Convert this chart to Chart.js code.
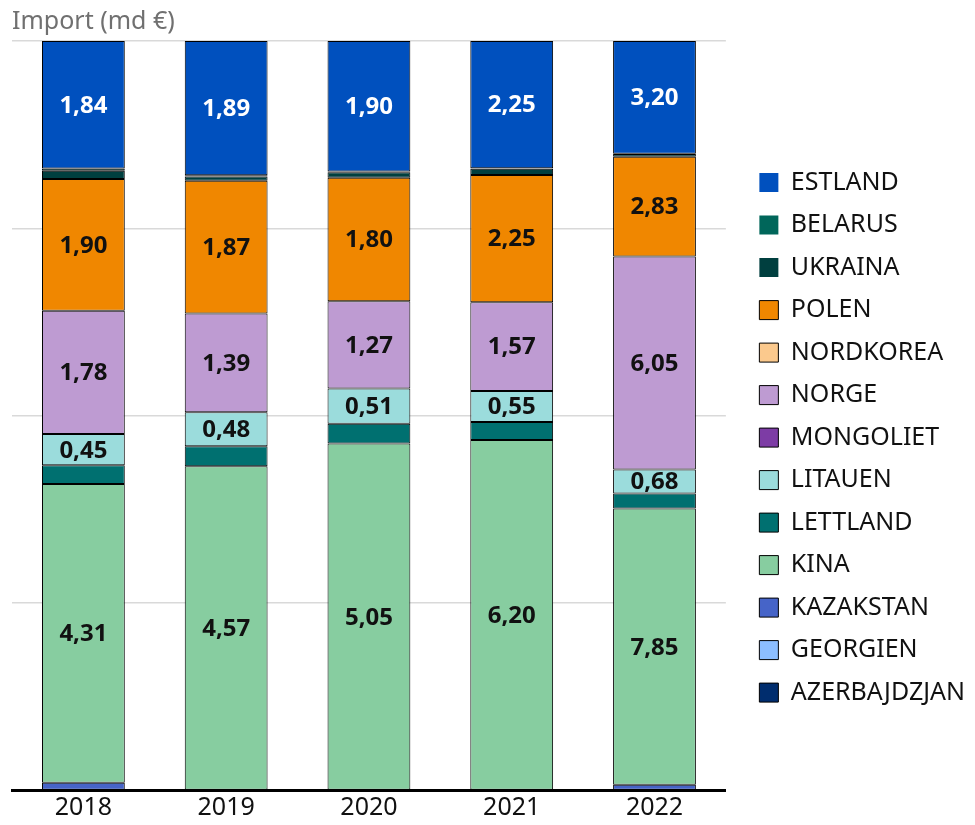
<!DOCTYPE html>
<html>
<head>
<meta charset="utf-8">
<script src="https://cdn.jsdelivr.net/npm/chart.js@4/dist/chart.umd.min.js"></script>
<style>
    html, body { margin: 0; padding: 0; background: #fff; }
    #wrap { width: 975px; height: 825px; }
</style>
</head>
<body>
<div id="wrap"><canvas id="importChart"></canvas></div>
<script>
// import, miljarder euro
const years = ['2018', '2019', '2020', '2021', '2022'];

const azerbajdzjan = [0, 0, 0, 0, 0];
const georgien = [0, 0, 0, 0, 0];
const kazakstan = [0.11, 0, 0, 0, 0.16];
const kina = [4.31, 4.57, 5.05, 6.20, 7.85];
const lettland = [0.27, 0.28, 0.29, 0.32, 0.43];
const litauen = [0.45, 0.48, 0.51, 0.55, 0.68];
const mongoliet = [0, 0, 0, 0, 0];
const norge = [1.78, 1.39, 1.27, 1.57, 6.05];
const nordkorea = [0, 0, 0, 0, 0];
const polen = [1.90, 1.87, 1.80, 2.25, 2.83];
const ukraina = [0.12, 0.06, 0.08, 0.11, 0.08];
const belarus = [0.03, 0.02, 0.01, 0.01, 0.01];
const estland = [1.84, 1.89, 1.90, 2.25, 3.20];

// bottom of the stack first
const series = [
    {label: 'AZERBAJDZJAN', values: azerbajdzjan, color: '#002D6E'},
    {label: 'GEORGIEN', values: georgien, color: '#8CBEFF'},
    {label: 'KAZAKSTAN', values: kazakstan, color: '#4664C8'},
    {label: 'KINA', values: kina, color: '#87CDA0', showValue: true},
    {label: 'LETTLAND', values: lettland, color: '#007070'},
    {label: 'LITAUEN', values: litauen, color: '#9BDCDC', showValue: true},
    {label: 'MONGOLIET', values: mongoliet, color: '#7D3CA5'},
    {label: 'NORGE', values: norge, color: '#BE9BD2', showValue: true},
    {label: 'NORDKOREA', values: nordkorea, color: '#FBC98D'},
    {label: 'POLEN', values: polen, color: '#F08700', showValue: true},
    {label: 'UKRAINA', values: ukraina, color: '#003F3F', noLegendBorder: true},
    {label: 'BELARUS', values: belarus, color: '#00665A', noLegendBorder: true},
    {label: 'ESTLAND', values: estland, color: '#0050BE', showValue: true, textColor: '#fff', noLegendBorder: true},
];

const FONT = '"Noto Sans", "Open Sans", sans-serif';

const totals = years.map(function (y, i) {
    let sum = 0;
    series.forEach(function (s) {
        sum += s.values[i];
    });
    return sum;
});

const datasets = series.map(function (s) {
    return {
        label: s.label,
        data: s.values.map(function (v, i) {
            return v > 0 ? v / totals[i] * 100 : null;
        }),
        values: s.values,
        showValue: !!s.showValue,
        noLegendBorder: !!s.noLegendBorder,
        textColor: s.textColor || '#111',
        backgroundColor: s.color,
        borderColor: '#000',
        borderWidth: 1,
        borderSkipped: false,
        barPercentage: 0.58,
        categoryPercentage: 1,
    };
});

const valueLabels = {
    id: 'valueLabels',
    afterDatasetsDraw: function (chart) {
        const ctx = chart.ctx;
        ctx.save();
        ctx.font = 'bold 24px ' + FONT;
        ctx.textAlign = 'center';
        ctx.textBaseline = 'middle';
        chart.data.datasets.forEach(function (ds, di) {
            if (!ds.showValue) {
                return;
            }
            const meta = chart.getDatasetMeta(di);
            meta.data.forEach(function (bar, i) {
                const v = ds.values[i];
                if (!v) {
                    return;
                }
                const y = (bar.y + bar.base) / 2;
                ctx.fillStyle = ds.textColor;
                ctx.fillText(v.toFixed(2).replace('.', ','), bar.x, y + 1);
            });
        });
        ctx.restore();
    }
};

// some air between the plot and the legend
const LEGEND_GAP = 16;
const legendGap = {
    id: 'legendGap',
    beforeInit: function (chart) {
        const fit = chart.legend.fit;
        chart.legend.fit = function () {
            fit.call(this);
            this.width += LEGEND_GAP;
        };
    },
    afterLayout: function (chart) {
        chart.legend.left += LEGEND_GAP;
    }
};

const legendLabels = function (chart) {
    const items = Chart.defaults.plugins.legend.labels.generateLabels(chart);
    items.forEach(function (item) {
        if (chart.data.datasets[item.datasetIndex].noLegendBorder) {
            item.lineWidth = 0;
        }
    });
    return items;
};

const ctx = document.getElementById('importChart').getContext('2d');
const myChart = new Chart(ctx, {
    type: 'bar',
    data: {
        labels: years,
        datasets: datasets,
    },
    plugins: [valueLabels, legendGap],
    options: {
        responsive: true,
        maintainAspectRatio: false,
        animation: false,
        layout: {
            padding: {left: 12, right: 0, top: 0, bottom: 0}
        },
        plugins: {
            title: {
                display: true,
                text: 'Import (md €)',
                align: 'start',
                color: '#707070',
                font: {family: FONT, size: 25, weight: 'normal'},
                padding: {top: 7, bottom: 4},
            },
            legend: {
                position: 'right',
                reverse: true,
                title: {
                    display: true,
                    text: '',
                    font: {size: 1},
                    padding: {top: 0, bottom: 49},
                },
                labels: {
                    color: '#111',
                    boxWidth: 19,
                    boxHeight: 19,
                    padding: 17.5,
                    font: {family: FONT, size: 25},
                    generateLabels: legendLabels,
                },
            },
            tooltip: {enabled: false},
        },
        scales: {
            x: {
                stacked: true,
                grid: {display: false, drawTicks: false},
                border: {display: true, color: '#000', width: 3},
                ticks: {
                    color: '#111',
                    padding: 11,
                    font: {family: FONT, size: 25, lineHeight: 0.5},
                },
            },
            y: {
                stacked: true,
                min: 0,
                max: 100,
                ticks: {display: false, stepSize: 25},
                grid: {color: '#d9d9d9', lineWidth: 1.5, drawTicks: false},
                border: {display: false},
            },
        },
    },
});
</script>
</body>
</html>
